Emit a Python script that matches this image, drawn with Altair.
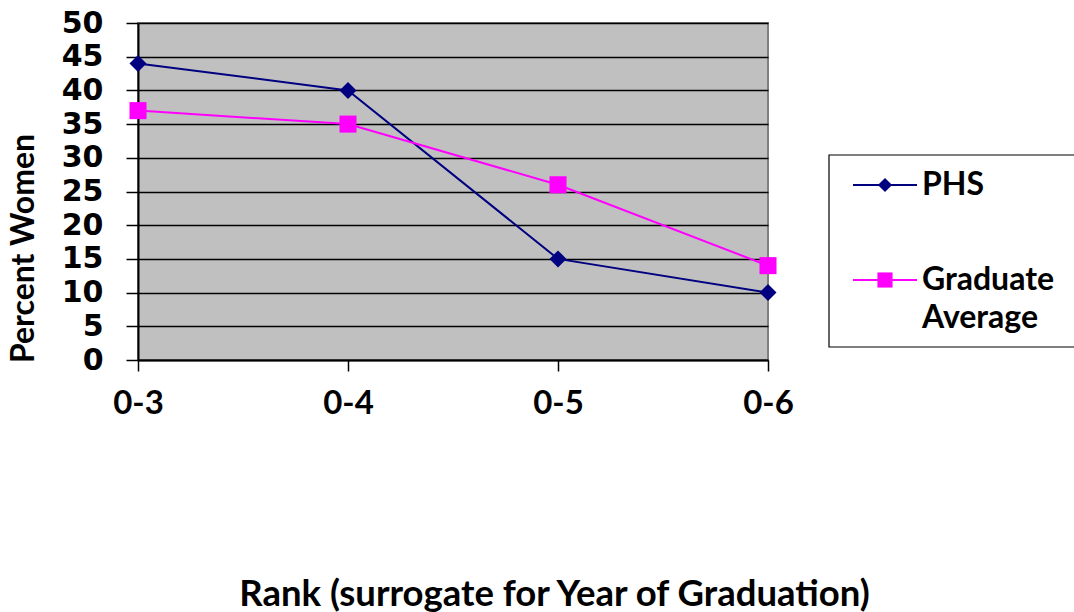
import altair as alt
import pandas as pd

ranks = ["0-3", "0-4", "0-5", "0-6"]
series_names = ["PHS", "Graduate Average"]
phs = [44, 40, 15, 10]
grad_avg = [37, 35, 26, 14]
colors = ["#000080", "#FF00FF"]
shapes = ["diamond", "square"]
y_ticks = list(range(0, 51, 5))

rows = []
for r, a, b in zip(ranks, phs, grad_avg):
    rows.append({"rank": r, "series": series_names[0], "value": a})
    rows.append({"rank": r, "series": series_names[1], "value": b})
df = pd.DataFrame(rows)

W, H = 630, 337
LABEL_FONT = "Lato"
TICK_FONT = "DejaVu Sans"

x_enc = alt.X(
    "rank:N",
    sort=ranks,
    scale=alt.Scale(type="point", padding=0),
    axis=alt.Axis(
        title="Rank (surrogate for Year of Graduation)",
        labelAngle=0,
        labelFont=LABEL_FONT,
        labelFontSize=33,
        labelFontWeight="bold",
        labelColor="black",
        labelPadding=16,
        tickSize=11,
        tickColor="black",
        tickWidth=1.5,
        domainColor="black",
        domainWidth=2,
        grid=False,
        titleFont=LABEL_FONT,
        titleFontSize=36.5,
        titleFontWeight="bold",
        titleColor="black",
        titleX=416,
        titleY=234,
        titleBaseline="middle",
        titleAnchor="middle",
        titleAlign="center",
    ),
)
y_enc = alt.Y(
    "value:Q",
    scale=alt.Scale(domain=[0, 50], nice=False),
    axis=alt.Axis(
        title="Percent Women",
        values=y_ticks,
        labelFont=TICK_FONT,
        labelFontSize=30,
        labelFontWeight="bold",
        labelColor="black",
        labelPadding=23,
        tickSize=12,
        tickColor="black",
        tickWidth=1.5,
        domainColor="black",
        domainWidth=2,
        grid=True,
        gridColor="black",
        gridWidth=1.6,
        gridOpacity=1,
        titleFont=LABEL_FONT,
        titleFontSize=32,
        titleFontWeight="bold",
        titleColor="black",
        titleAngle=270,
        titleX=-115,
        titleY=225,
        titleBaseline="middle",
        titleAlign="center",
    ),
)
color_enc = alt.Color(
    "series:N", scale=alt.Scale(domain=series_names, range=colors), legend=None
)
shape_enc = alt.Shape(
    "series:N", scale=alt.Scale(domain=series_names, range=shapes), legend=None
)

lines = alt.Chart(df).mark_line(strokeWidth=2).encode(
    x=x_enc, y=y_enc, color=color_enc, detail="series:N"
)
points = alt.Chart(df).mark_point(filled=True, size=290, opacity=1).encode(
    x=x_enc, y=y_enc, color=color_enc, shape=shape_enc
)

# Legend (drawn manually to match the boxed Excel-style legend)
leg_df = pd.DataFrame({"series": series_names})
legend_box = alt.Chart(leg_df.head(1)).mark_rect(
    fill="white", stroke="black", strokeWidth=1.2
).encode(
    x=alt.value(691), x2=alt.value(950), y=alt.value(132), y2=alt.value(324)
)
legend_layers = [legend_box]
leg_y = [162, 257]
for i, name in enumerate(series_names):
    sub = leg_df[leg_df["series"] == name]
    legend_layers.append(
        alt.Chart(sub).mark_rule(color=colors[i], strokeWidth=2).encode(
            x=alt.value(715), x2=alt.value(779), y=alt.value(leg_y[i])
        )
    )
    legend_layers.append(
        alt.Chart(sub).mark_point(
            filled=True, shape=shapes[i], color=colors[i], size=200 if i == 0 else 230, opacity=1
        ).encode(x=alt.value(747), y=alt.value(leg_y[i]))
    )
text_lines = [["PHS"], ["Graduate", "Average"]]
for i, name in enumerate(series_names):
    for j, t in enumerate(text_lines[i]):
        legend_layers.append(
            alt.Chart(leg_df[leg_df["series"] == name]).mark_text(
                text=t,
                align="left",
                baseline="middle",
                font=LABEL_FONT,
                fontSize=32,
                fontWeight="bold",
                color="black",
            ).encode(x=alt.value(784), y=alt.value(leg_y[i] + j * 38))
        )

chart = alt.layer(lines, points, *legend_layers).properties(
    width=W,
    height=H,
    autosize=alt.AutoSizeParams(type="none"),
    padding={"left": 138, "top": 23, "right": 1074 - 138 - W, "bottom": 612 - 23 - H},
    background="white",
).configure_view(
    fill="#C0C0C0", stroke="#808080", strokeWidth=2
)

chart.save("out.html", embed_options={"renderer": "svg", "actions": False})
